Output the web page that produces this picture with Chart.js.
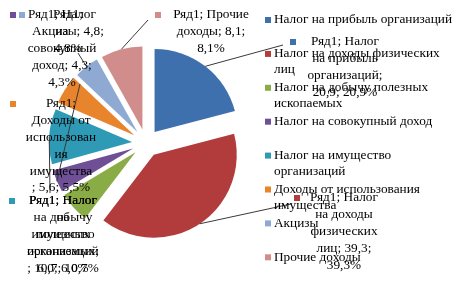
<!DOCTYPE html>
<html>
<head>
<meta charset="utf-8">
<script src="https://cdn.jsdelivr.net/npm/chart.js@4.4.1/dist/chart.umd.min.js"></script>
<style>
  html, body { margin: 0; padding: 0; background: #fff; }
  #chart { display: block; }
</style>
</head>
<body>
<canvas id="chart" width="466" height="281"></canvas>
<script>
const seriesName = 'Ряд1';
const categories = [
  'Налог на прибыль организаций',
  'Налог на доходы физических лиц',
  'Налог на добычу полезных ископаемых',
  'Налог на совокупный доход',
  'Налог на имущество организаций',
  'Доходы от использования имущества',
  'Акцизы',
  'Прочие доходы'
];
const values = [20.9, 39.3, 6.0, 4.3, 10.7, 5.6, 4.8, 8.1];
const percents = [20.9, 39.3, 6.0, 4.3, 10.7, 5.5, 4.8, 8.1];
const colors = ['#3f70ae', '#b13c3b', '#8aac46', '#6f4f95', '#2e9ab5', '#e8842c', '#8eaad2', '#d18d8b'];

// data label text, wrapped the way the original wraps it; {v} and {p} are filled from values/percents
const labelLines = [
  ['Ряд1; Налог', 'на прибыль', 'организаций;', '{v}; {p}%'],
  ['Ряд1; Налог', 'на доходы', 'физических', 'лиц; {v};', '{p}%'],
  ['Ряд1; Налог', 'на добычу', 'полезных', 'ископаемых;', '{v}; {p}%'],
  ['Ряд1; Налог', 'на', 'совокупный', 'доход; {v};', '{p}%'],
  ['Ряд1; Налог', 'на', 'имущество', 'организаций', '; {v}; {p}%'],
  ['Ряд1;', 'Доходы от', 'использован', 'ия', 'имущества', '; {v}; {p}%'],
  ['Ряд1;', 'Акцизы; {v};', '{p}%'],
  ['Ряд1; Прочие', 'доходы; {v};', '{p}%']
];

// where each label block sits (centre x, first line y, key x) and where its leader line ends
const labelPlaces = [
  {x: 345, y: 42, key: 293, lead: [283, 45]},
  {x: 344, y: 198, key: 297, lead: [291, 204]},
  {x: 63, y: 201, key: 12, lead: null},
  {x: 62, y: 15, key: 13, lead: [80, 84]},
  {x: 63, y: 201, key: 12, lead: [50, 193]},
  {x: 61, y: 104, key: 13, lead: null},
  {x: 68, y: 15, key: 22, lead: [78, 53]},
  {x: 211, y: 15, key: 158, lead: [148, 20]}
];

const explode = 14;
const font = '13.3px "Liberation Serif", "Times New Roman", serif';
const lineH = 16.8;

const fmt = n => n.toFixed(1).replace('.', ',');

function arcGeom(arc) {
  const p = arc.getProps(['x', 'y', 'startAngle', 'endAngle', 'outerRadius'], true);
  const mid = (p.startAngle + p.endAngle) / 2;
  return {
    cx: p.x + Math.cos(mid) * explode,
    cy: p.y + Math.sin(mid) * explode,
    r: p.outerRadius, start: p.startAngle, end: p.endAngle, mid
  };
}

function wrap(ctx, text, maxW) {
  const words = text.split(' ');
  const out = [];
  let cur = '';
  words.forEach(w => {
    const t = cur ? cur + ' ' + w : w;
    if (cur && ctx.measureText(t).width > maxW) {
      out.push(cur);
      cur = w;
    } else {
      cur = t;
    }
  });
  out.push(cur);
  return out;
}

const explodedPie = {
  id: 'explodedPie',
  beforeDatasetsDraw(chart) {
    const ctx = chart.ctx;
    chart.getDatasetMeta(0).data.forEach((arc, i) => {
      const g = arcGeom(arc);
      ctx.save();
      ctx.beginPath();
      ctx.moveTo(g.cx, g.cy);
      ctx.arc(g.cx, g.cy, g.r, g.start, g.end);
      ctx.closePath();
      ctx.fillStyle = colors[i];
      ctx.fill();
      ctx.restore();
    });
    return false;
  },
  afterDraw(chart) {
    const ctx = chart.ctx;
    const arcs = chart.getDatasetMeta(0).data;
    ctx.save();

    // leader lines
    ctx.strokeStyle = '#3a3a3a';
    ctx.lineWidth = 1;
    arcs.forEach((arc, i) => {
      const lead = labelPlaces[i].lead;
      if (!lead) return;
      const g = arcGeom(arc);
      ctx.beginPath();
      ctx.moveTo(g.cx + Math.cos(g.mid) * g.r, g.cy + Math.sin(g.mid) * g.r);
      ctx.lineTo(lead[0], lead[1]);
      ctx.stroke();
    });

    // data labels
    ctx.font = font;
    ctx.textBaseline = 'middle';
    ctx.textAlign = 'center';
    labelLines.forEach((lines, i) => {
      const pl = labelPlaces[i];
      ctx.fillStyle = colors[i];
      ctx.fillRect(pl.key - 3, pl.y - 3, 6, 6);
      ctx.fillStyle = '#000';
      lines.forEach((t, k) => {
        const s = t.replace('{v}', fmt(values[i])).replace('{p}', fmt(percents[i]));
        ctx.fillText(s, pl.x, pl.y + k * lineH);
      });
    });

    // legend
    ctx.textAlign = 'left';
    categories.forEach((c, i) => {
      const y = 20 + i * 33.9;
      ctx.fillStyle = colors[i];
      ctx.fillRect(265, y - 3, 6, 6);
      ctx.fillStyle = '#000';
      wrap(ctx, c, 183).forEach((t, k) => ctx.fillText(t, 274, y + k * 16));
    });
    ctx.restore();
  }
};

new Chart(document.getElementById('chart'), {
  type: 'pie',
  data: {
    labels: categories,
    datasets: [{
      label: seriesName,
      data: values,
      backgroundColor: colors,
      borderWidth: 0,
      hoverBorderWidth: 0,
      hoverOffset: 0
    }]
  },
  options: {
    responsive: false,
    animation: false,
    radius: 83,
    layout: {padding: {left: 63, top: 60, right: 237, bottom: 55}},
    plugins: {
      legend: {display: false},
      tooltip: {enabled: false}
    }
  },
  plugins: [explodedPie]
});
</script>
</body>
</html>
